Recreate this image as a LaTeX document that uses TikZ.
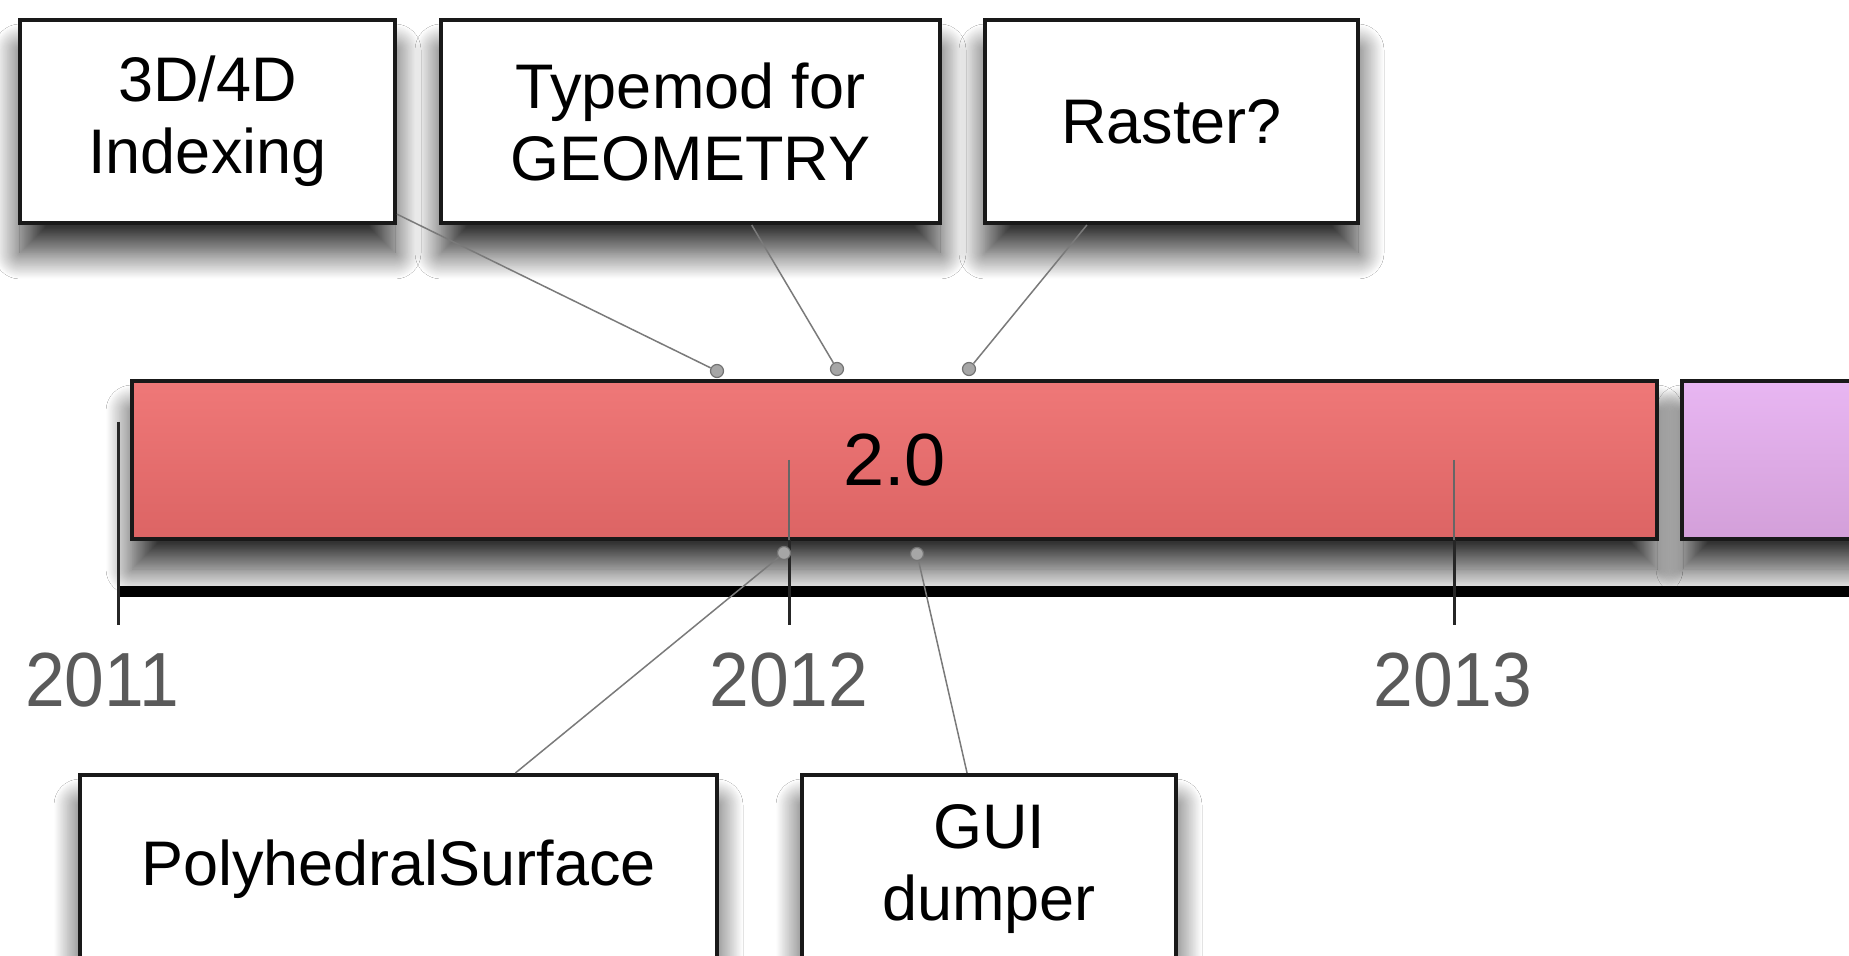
\documentclass[tikz,border=0pt]{standalone}
\usepackage{fontspec}
\setmainfont{Liberation Sans}
\usetikzlibrary{shadows.blur}
\definecolor{redtop}{HTML}{EF7878}
\definecolor{redbot}{HTML}{DC6464}
\definecolor{purtop}{HTML}{E8B6F2}
\definecolor{purbot}{HTML}{D39FD9}
\definecolor{yeargray}{HTML}{5A5A5A}
\definecolor{conngray}{HTML}{7A7A7A}
\begin{document}
\begin{tikzpicture}[x=0.5pt,y=-0.5pt,
  softshadow/.style={blur shadow={shadow xshift=0pt, shadow yshift=-15pt, shadow blur radius=13pt,
    shadow blur steps=30, shadow opacity=80}},
  featbox/.style={draw=black!90, line width=2pt, fill=white, align=center, inner sep=0pt,
    minimum height=101.5pt, font=\fontsize{31.5}{36}\selectfont, softshadow},
  barbox/.style={draw=black!90, line width=2pt, inner sep=0pt, minimum height=79pt,
    font=\fontsize{37}{40}\selectfont, softshadow},
  year/.style={font=\fontsize{38.4}{40}\selectfont, text=yeargray, inner sep=0pt},
  tickline/.style={line width=1.5pt, black!85},
  conn/.style={line width=0.75pt, conngray},
  dotmark/.style={circle, draw=black!55, fill=black!35, line width=0.6pt, inner sep=0pt, minimum size=6.5pt}
]
\useasboundingbox (0,0) rectangle (1849,956);
\clip (0,0) rectangle (1849,956);
\fill[white] (0,0) rectangle (1849,956);

% bars
\node[barbox, minimum width=762.5pt, top color=redtop, bottom color=redbot] (v20) at (894.5,460) {2.0};
\node[barbox, minimum width=139pt, top color=purtop, bottom color=purbot] (vnext) at (1821,460) {};

% axis and ticks
\draw[line width=5.5pt, black] (118,592) -- (1849,592);
\draw[tickline] (118,422) -- (118,625);
\draw[line width=0.6pt, black!60] (789,460) -- (789,540);
\draw[tickline] (789,540) -- (789,625);
\draw[line width=0.6pt, black!60] (1454,460) -- (1454,540);
\draw[tickline] (1454,540) -- (1454,625);

\node[year] (y2011) at (102,680) {\scalebox{0.93}[1]{2011}};
\node[year] (y2012) at (789,680) {\scalebox{0.93}[1]{2012}};
\node[year] (y2013) at (1453,680) {\scalebox{0.93}[1]{2013}};

% feature boxes
\node[featbox, minimum width=187.5pt] (idx) at (207.5,121.5) {3D/4D\\Indexing};
\node[featbox, minimum width=249.5pt] (typ) at (690.5,121.5) {Typemod for\\GEOMETRY};
\node[featbox, minimum width=186.5pt] (ras) at (1171.5,121.5) {Raster?};
\node[featbox, minimum width=318.5pt, minimum height=94pt] (poly) at (398.5,869) {PolyhedralSurface};
\node[featbox, minimum width=187pt, minimum height=94pt] (gui) at (989,869) {GUI\\dumper};

% connector dots
\node[dotmark] (d1) at (717,371) {};
\node[dotmark] (d2) at (837,369) {};
\node[dotmark] (d3) at (969,369) {};
\node[dotmark] (d4) at (784,553) {};
\node[dotmark] (d5) at (917,554) {};

\draw[conn] (d1) -- (idx);
\draw[conn] (d2) -- (typ);
\draw[conn] (d3) -- (ras);
\draw[conn] (d4) -- (poly);
\draw[conn] (d5) -- (gui);
\end{tikzpicture}
\end{document}
